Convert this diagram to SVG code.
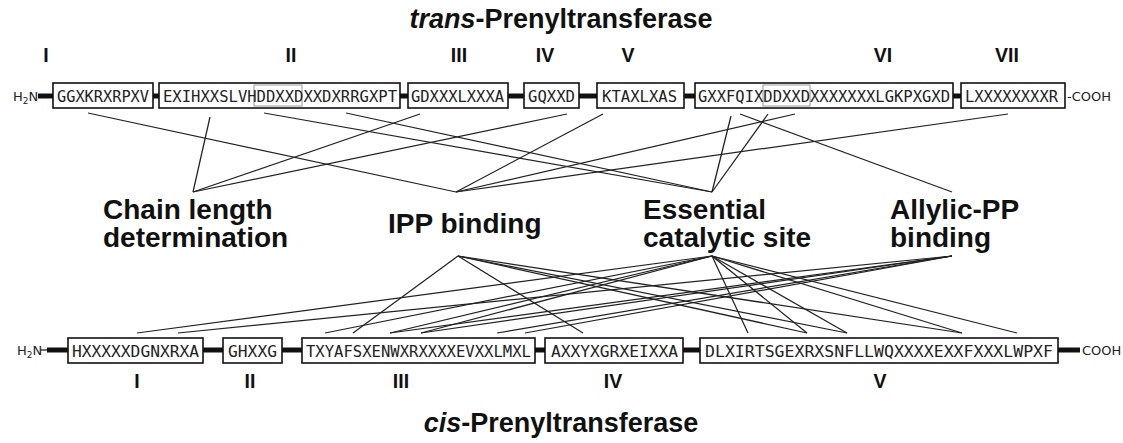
<svg xmlns="http://www.w3.org/2000/svg" width="1123" height="443" viewBox="0 0 1123 443">
<style>
.title{font-family:"Liberation Sans",Arial,sans-serif;font-weight:bold;font-size:27px;fill:#111}
.lbl{font-family:"Liberation Sans",Arial,sans-serif;font-weight:bold;font-size:28px;fill:#111}
.rn{font-family:"Liberation Sans",Arial,sans-serif;font-weight:bold;font-size:19.5px;fill:#111;text-anchor:middle}
.seq{font-family:"DejaVu Sans Mono",monospace;font-size:16px;fill:#222}
.seqb{font-family:"DejaVu Sans Mono",monospace;font-size:16.5px;fill:#222}
.term{font-family:"DejaVu Sans",sans-serif;font-size:13px;fill:#222}
.box{fill:#fff;stroke:#111;stroke-width:1.6}
.inner{fill:none;stroke:#999;stroke-width:1}
.bar{stroke:#111;stroke-width:5}
.con line{stroke:#222;stroke-width:1.25}
</style>
<rect width="1123" height="443" fill="#fff"/>
<text class="title" x="561" y="28" text-anchor="middle"><tspan font-style="italic">trans</tspan>-Prenyltransferase</text>
<g id="trans-numerals">
<text class="rn" x="46" y="62">I</text>
<text class="rn" x="291" y="62">II</text>
<text class="rn" x="459" y="62">III</text>
<text class="rn" x="545" y="62">IV</text>
<text class="rn" x="628" y="62">V</text>
<text class="rn" x="883" y="62">VI</text>
<text class="rn" x="1007" y="62">VII</text>
</g>
<g id="trans-chain">
<text class="term" x="13" y="101">H<tspan font-size="9" dy="3">2</tspan><tspan dy="-3">N</tspan></text>
<line class="bar" x1="38" y1="96" x2="53" y2="96"/>
<line class="bar" x1="153" y1="96" x2="159" y2="96"/>
<line class="bar" x1="400" y1="96" x2="408" y2="96"/>
<line class="bar" x1="508" y1="96" x2="524" y2="96"/>
<line class="bar" x1="579" y1="96" x2="597" y2="96"/>
<line class="bar" x1="684" y1="96" x2="695" y2="96"/>
<line class="bar" x1="953" y1="96" x2="961" y2="96"/>
<text class="term" x="1067" y="101" font-size="14">-COOH</text>
</g>
<g id="t1"><rect class="box" x="53" y="83" width="100" height="25"/><text class="seq" x="57" y="102" textLength="92" lengthAdjust="spacingAndGlyphs">GGXKRXRPXV</text></g>
<g id="t2"><rect class="box" x="159" y="83" width="241" height="25"/><rect class="inner" x="254" y="85" width="48" height="21"/><text class="seq" x="163" y="102" textLength="234" lengthAdjust="spacingAndGlyphs">EXIHXXSLVHDDXXDXXDXRRGXPT</text></g>
<g id="t3"><rect class="box" x="408" y="83" width="100" height="25"/><text class="seq" x="411" y="102" textLength="93" lengthAdjust="spacingAndGlyphs">GDXXXLXXXA</text></g>
<g id="t4"><rect class="box" x="524" y="83" width="55" height="25"/><text class="seq" x="528" y="102" textLength="47" lengthAdjust="spacingAndGlyphs">GQXXD</text></g>
<g id="t5"><rect class="box" x="597" y="83" width="87" height="25"/><text class="seq" x="602" y="102" textLength="75" lengthAdjust="spacingAndGlyphs">KTAXLXAS</text></g>
<g id="t6"><rect class="box" x="695" y="83" width="258" height="25"/><rect class="inner" x="763" y="85" width="47" height="21"/><text class="seq" x="698" y="102" textLength="252" lengthAdjust="spacingAndGlyphs">GXXFQIXDDXXDXXXXXXXLGKPXGXD</text></g>
<g id="t7"><rect class="box" x="961" y="83" width="104" height="25"/><text class="seq" x="965" y="102" textLength="93" lengthAdjust="spacingAndGlyphs">LXXXXXXXXR</text></g>

<g id="lbl-chain"><text class="lbl" x="103" y="219">Chain length</text><text class="lbl" x="103" y="247">determination</text></g>
<g id="lbl-ipp"><text class="lbl" x="388" y="233">IPP binding</text></g>
<g id="lbl-ess"><text class="lbl" x="643" y="219">Essential</text><text class="lbl" x="643" y="247">catalytic site</text></g>
<g id="lbl-allyl"><text class="lbl" x="890" y="219">Allylic-PP</text><text class="lbl" x="890" y="247">binding</text></g>

<g id="connectors" class="con">
<line x1="88" y1="113" x2="456" y2="192"/>
<line x1="210" y1="117" x2="193" y2="192"/>
<line x1="264" y1="113" x2="712" y2="192"/>
<line x1="346" y1="113" x2="712" y2="192"/>
<line x1="420" y1="114" x2="193" y2="192"/>
<line x1="567" y1="114" x2="193" y2="192"/>
<line x1="603" y1="114" x2="456" y2="192"/>
<line x1="731" y1="116" x2="712" y2="192"/>
<line x1="740" y1="114" x2="952" y2="192"/>
<line x1="768" y1="114" x2="712" y2="192"/>
<line x1="795" y1="114" x2="456" y2="192"/>
<line x1="1008" y1="114" x2="456" y2="192"/>

<line x1="458" y1="256" x2="353" y2="333"/>
<line x1="458" y1="256" x2="583" y2="333"/>
<line x1="458" y1="256" x2="807" y2="333"/>
<line x1="458" y1="256" x2="847" y2="333"/>
<line x1="458" y1="256" x2="962" y2="333"/>

<line x1="712" y1="256" x2="137" y2="333"/>
<line x1="712" y1="256" x2="325" y2="333"/>
<line x1="712" y1="256" x2="390" y2="333"/>
<line x1="712" y1="256" x2="421" y2="333"/>
<line x1="712" y1="256" x2="748" y2="333"/>
<line x1="712" y1="256" x2="807" y2="333"/>
<line x1="712" y1="256" x2="847" y2="333"/>
<line x1="712" y1="256" x2="962" y2="333"/>
<line x1="712" y1="256" x2="1017" y2="333"/>

<line x1="952" y1="256" x2="178" y2="333"/>
<line x1="952" y1="256" x2="390" y2="333"/>
<line x1="952" y1="256" x2="421" y2="333"/>
<line x1="952" y1="256" x2="497" y2="333"/>
<line x1="952" y1="256" x2="525" y2="333"/>
</g>

<g id="cis-chain">
<text class="term" x="17" y="355">H<tspan font-size="9" dy="3">2</tspan><tspan dy="-3">N</tspan></text>
<line x1="41" y1="350" x2="48" y2="350" stroke="#111" stroke-width="1.2"/>
<line class="bar" x1="47" y1="350" x2="68" y2="350"/>
<line class="bar" x1="203" y1="350" x2="223" y2="350"/>
<line class="bar" x1="282" y1="350" x2="302" y2="350"/>
<line class="bar" x1="535" y1="350" x2="545" y2="350"/>
<line class="bar" x1="683" y1="350" x2="700" y2="350"/>
<line class="bar" x1="1058" y1="350" x2="1080" y2="350"/>
<text class="term" x="1082" y="355" font-size="14">COOH</text>
</g>
<g id="c1"><rect class="box" x="68" y="338" width="135" height="25"/><text class="seqb" x="72" y="357" textLength="127" lengthAdjust="spacingAndGlyphs">HXXXXXDGNXRXA</text></g>
<g id="c2"><rect class="box" x="223" y="338" width="59" height="25"/><text class="seqb" x="228" y="357" textLength="49" lengthAdjust="spacingAndGlyphs">GHXXG</text></g>
<g id="c3"><rect class="box" x="302" y="338" width="233" height="25"/><text class="seqb" x="306" y="357" textLength="225" lengthAdjust="spacingAndGlyphs">TXYAFSXENWXRXXXXEVXXLMXL</text></g>
<g id="c4"><rect class="box" x="545" y="338" width="138" height="25"/><text class="seqb" x="551" y="357" textLength="127" lengthAdjust="spacingAndGlyphs">AXXYXGRXEIXXA</text></g>
<g id="c5"><rect class="box" x="700" y="338" width="358" height="25"/><text class="seqb" x="705" y="357" textLength="348" lengthAdjust="spacingAndGlyphs">DLXIRTSGEXRXSNFLLWQXXXXEXXFXXXLWPXF</text></g>
<g id="cis-numerals">
<text class="rn" x="137" y="388">I</text>
<text class="rn" x="250" y="388">II</text>
<text class="rn" x="401" y="388">III</text>
<text class="rn" x="613" y="388">IV</text>
<text class="rn" x="880" y="388">V</text>
</g>
<text class="title" x="561" y="432" text-anchor="middle"><tspan font-style="italic">cis</tspan>-Prenyltransferase</text>
</svg>
